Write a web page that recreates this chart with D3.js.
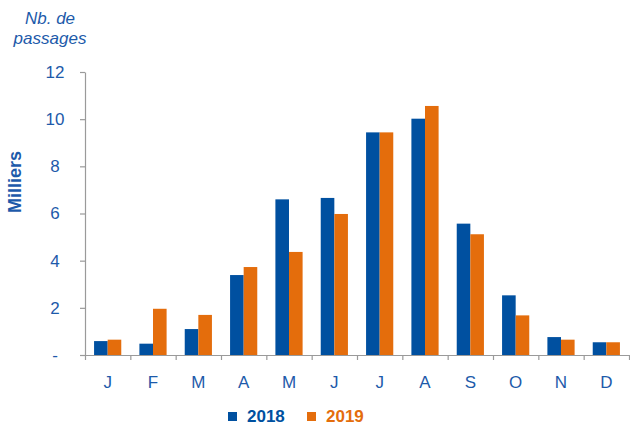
<!DOCTYPE html>
<html><head><meta charset="utf-8">
<script src="https://cdn.jsdelivr.net/npm/d3@7"></script>
<style>
html,body{margin:0;padding:0;background:#fff;}
svg{display:block;font-family:"Liberation Sans",Arial,sans-serif;}
</style></head>
<body>
<svg id="chart" width="630" height="425"></svg>
<script>
const months = ["J","F","M","A","M","J","J","A","S","O","N","D"];
const series = ["2018","2019"];
const values2018 = [0.59,0.48,1.10,3.39,6.60,6.66,9.44,10.02,5.57,2.53,0.76,0.54];
const values2019 = [0.65,1.96,1.70,3.73,4.37,5.98,9.44,10.56,5.12,1.68,0.65,0.54];
const yTicks = [0,2,4,6,8,10,12];
const yTickLabels = ["-","2","4","6","8","10","12"];
const colors = ["#0050a0","#e46d0c"];
const textBlue = "#1d5aaa";

const svg = d3.select("#chart");
const m = {left:85, right:629, top:72, bottom:355};

const x0 = d3.scaleBand().domain(d3.range(months.length)).range([m.left, m.right]).padding(0);
const groupW = x0.bandwidth()*0.6;
const x1 = d3.scaleBand().domain(series).range([0, groupW]).padding(0);
const y = d3.scaleLinear().domain([0,12]).range([m.bottom, m.top]);

// bars
const data = months.map((mo,i)=>({i, vals:[values2018[i], values2019[i]]}));
const g = svg.append("g");
data.forEach(d=>{
  const gx = x0(d.i) + (x0.bandwidth()-groupW)/2;
  series.forEach((s,k)=>{
    g.append("rect")
      .attr("x", gx + x1(s))
      .attr("y", y(d.vals[k]))
      .attr("width", x1.bandwidth())
      .attr("height", y(0)-y(d.vals[k]))
      .attr("fill", colors[k]);
  });
});

// y axis
const yAxis = d3.axisLeft(y).tickValues(yTicks).tickFormat((d,i)=>yTickLabels[i]).tickSize(5).tickSizeOuter(0);
const ya = svg.append("g").attr("transform",`translate(${m.left},0)`).call(yAxis);
ya.select(".domain").attr("stroke","#9a9a9a").attr("stroke-width",1.2);
ya.selectAll(".tick line").attr("stroke","#9a9a9a").attr("stroke-width",1.2);
ya.selectAll(".tick text").attr("x",-30).attr("text-anchor","middle")
  .attr("fill",textBlue).style("font-size","17px");

// x axis
const xAxisScale = d3.scaleLinear().domain([0, months.length]).range([m.left, m.right]);
const xa = svg.append("g").attr("transform",`translate(0,${m.bottom})`)
  .call(d3.axisBottom(xAxisScale).tickValues(d3.range(months.length+1)).tickFormat("").tickSize(5).tickSizeOuter(0));
xa.select(".domain").attr("stroke","#9a9a9a").attr("stroke-width",1.2);
xa.selectAll(".tick line").attr("stroke","#9a9a9a").attr("stroke-width",1.2);
svg.append("g").selectAll("text").data(months).join("text")
  .attr("x",(d,i)=>x0(i)+x0.bandwidth()/2)
  .attr("y",388)
  .attr("text-anchor","middle")
  .attr("fill",textBlue)
  .style("font-size","17px")
  .text(d=>d);

// axis titles
svg.append("text").attr("x",50).attr("y",24).attr("text-anchor","middle")
  .attr("fill",textBlue).style("font-size","17px").style("font-style","italic").text("Nb. de");
svg.append("text").attr("x",50).attr("y",44).attr("text-anchor","middle")
  .attr("fill",textBlue).style("font-size","17px").style("font-style","italic").text("passages");
svg.append("text").attr("transform","translate(21,182) rotate(-90)").attr("text-anchor","middle")
  .attr("fill",textBlue).style("font-size","18px").style("font-weight","bold").text("Milliers");

// legend
const legX = [228, 307];
series.forEach((s,k)=>{
  svg.append("rect").attr("x",legX[k]).attr("y",412).attr("width",9).attr("height",9).attr("fill",colors[k]);
  svg.append("text").attr("x",legX[k]+19).attr("y",422).attr("fill",colors[k])
    .style("font-size","17px").style("font-weight","bold").text(s);
});
</script>
</body></html>
